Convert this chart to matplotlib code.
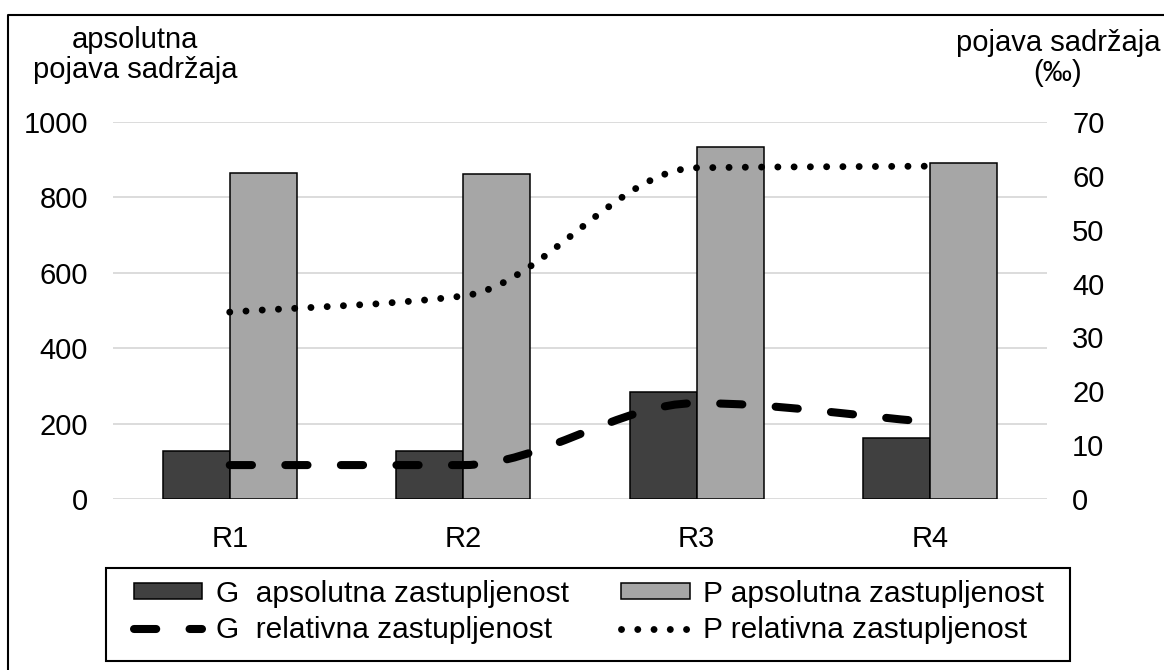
import numpy as np
import matplotlib
matplotlib.use("Agg")
import matplotlib.pyplot as plt
from matplotlib.path import Path
from matplotlib.patches import PathPatch, Patch, Rectangle
from matplotlib.lines import Line2D

plt.rcParams['font.family'] = ['Liberation Sans', 'DejaVu Sans']
plt.rcParams['font.size'] = 21
plt.rcParams['lines.scale_dashes'] = False

# podaci
regije = ["R1", "R2", "R3", "R4"]
g_aps = [127, 126, 284, 162]
p_aps = [865, 862, 934, 890]
g_rel = [6.3, 6.3, 17.8, 14.3]
p_rel = [34.7, 37.7, 61.5, 61.8]

TAMNA = "#404040"
SVIJETLA = "#a6a6a6"
DASH = (0, (16, 24))
DOT = (0, (0.01, 11.7))

W, H = 1164, 670


def glatka_putanja(x, y):
    # glatka krivulja kroz tocke (Bezier, bez prebacivanja preko tocaka)
    x = np.asarray(x, float)
    y = np.asarray(y, float)
    h = np.diff(x)
    d = np.diff(y) / h
    n = len(x)
    m = np.zeros(n)
    m[0], m[-1] = d[0], d[-1]
    for i in range(1, n - 1):
        if d[i - 1] * d[i] > 0:
            m[i] = 2 / (1 / d[i - 1] + 1 / d[i])
    verts = [(x[0], y[0])]
    codes = [Path.MOVETO]
    for i in range(n - 1):
        verts += [(x[i] + h[i] / 3, y[i] + m[i] * h[i] / 3),
                  (x[i + 1] - h[i] / 3, y[i + 1] - m[i + 1] * h[i] / 3),
                  (x[i + 1], y[i + 1])]
        codes += [Path.CURVE4] * 3
    return Path(verts, codes)


fig = plt.figure(figsize=(W / 100, H / 100), dpi=100)
ax = fig.add_axes([113 / W, 1 - 499 / H, (1047 - 113) / W, (499 - 122) / H])
ax2 = ax.twinx()

pos = np.arange(len(regije))
w = 0.287
ax.bar(pos - w / 2, g_aps, w, color=TAMNA, edgecolor="black", linewidth=1.1, zorder=2)
ax.bar(pos + w / 2, p_aps, w, color=SVIJETLA, edgecolor="black", linewidth=1.1, zorder=2)

ax.set_xlim(-0.5, 3.5)
ax.set_ylim(0, 1000)
ax.set_yticks(range(0, 1001, 200))
ax.set_xticks(pos)
ax.set_xticklabels(regije)
ax.grid(axis="y", color="#d9d9d9", linewidth=1.3, zorder=0)
ax.set_axisbelow(True)
ax.tick_params(axis="both", length=0)
ax.tick_params(axis="y", pad=18)
ax.tick_params(axis="x", pad=19)
for s in ax.spines.values():
    s.set_visible(False)

ax2.set_ylim(0, 70)
ax2.set_yticks(range(0, 71, 10))
ax2.tick_params(axis="y", length=0, pad=18)
for s in ax2.spines.values():
    s.set_visible(False)

ax2.add_patch(PathPatch(glatka_putanja(pos, g_rel), fill=False, edgecolor="black",
                        linewidth=5.8, linestyle=DASH, capstyle="round", zorder=3))
ax2.add_patch(PathPatch(glatka_putanja(pos, p_rel), fill=False, edgecolor="black",
                        linewidth=5.0, linestyle=DOT, capstyle="round", zorder=3))

# naslovi osi
fig.text(135 / W, 1 - 26 / H, "apsolutna\npojava sadržaja", ha="center", va="top",
         linespacing=1.1)
fig.text(1058 / W, 1 - 29 / H, "pojava sadržaja\n(‰)", ha="center", va="top",
         linespacing=1.1)

# legenda (okvir crtan posebno)
handles = [
    Patch(facecolor=TAMNA, edgecolor="black", linewidth=1.1),
    Line2D([], [], color="black", linewidth=5.8, linestyle=DASH, dash_capstyle="round"),
    Patch(facecolor=SVIJETLA, edgecolor="black", linewidth=1.1),
    Line2D([], [], color="black", linewidth=5.0, linestyle=DOT, dash_capstyle="round"),
]
labels = ["G  apsolutna zastupljenost", "G  relativna zastupljenost",
          "P apsolutna zastupljenost", "P relativna zastupljenost"]
fig.legend(handles, labels, ncol=2, loc="center", fontsize=21.5,
           bbox_to_anchor=(589 / W, 1 - 612 / H), frameon=False,
           handlelength=2.3, handleheight=0.45, handletextpad=0.45,
           columnspacing=1.75, labelspacing=0.3, borderpad=0, borderaxespad=0)
fig.add_artist(Rectangle((106 / W, 1 - 661 / H), (1070 - 106) / W, (661 - 568) / H,
                         fill=False, edgecolor="black", linewidth=1.5,
                         transform=fig.transFigure))

# okvir slike
fig.add_artist(Line2D([8 / W, 8 / W, 1.0], [-0.01, 1 - 15 / H, 1 - 15 / H],
                      color="black", linewidth=1.5, transform=fig.transFigure))

fig.savefig("out.png", dpi=100)
